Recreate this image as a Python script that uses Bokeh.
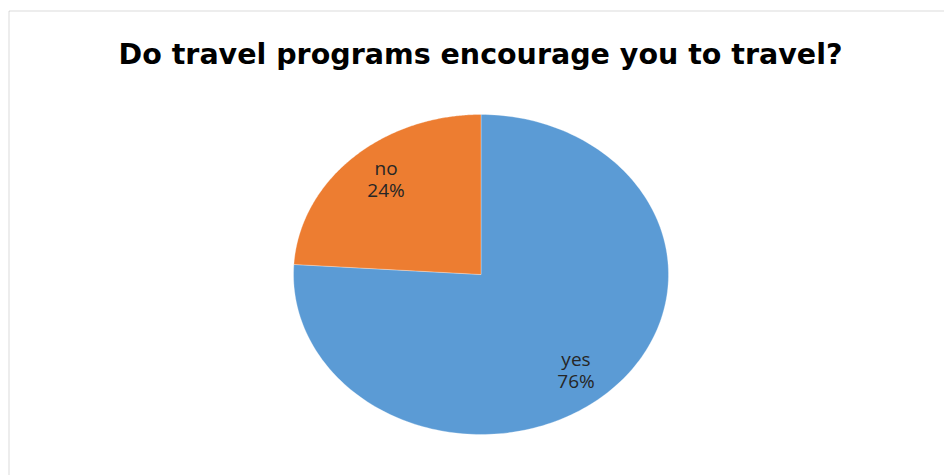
import numpy as np
from bokeh.plotting import figure
from bokeh.models import Range1d, ColumnDataSource, BoxAnnotation, Label
from bokeh.core.properties import value
from bokeh.embed import file_html
from bokeh.resources import INLINE

title_text = "Do travel programs encourage you to travel?"
categories = ["yes", "no"]
values = [76, 24]
colors = ["#5B9BD5", "#ED7D31"]

W, H = 944, 475
cx, cy, rx, ry = 480.5, 274, 187.5, 160
label_frac_x, label_frac_y = 0.74, 0.82

p = figure(width=W, height=H, x_range=Range1d(0, W), y_range=Range1d(H, 0),
           output_backend="svg", toolbar_location=None, min_border=0)
p.axis.visible = False
p.grid.visible = False
p.outline_line_color = None
p.background_fill_color = "white"
p.border_fill_color = "white"

# chart border (left and top visible)
p.add_layout(BoxAnnotation(left=8.5, right=W + 50, top=10.5, bottom=H + 50,
                           fill_alpha=0, line_color="#888888", line_width=1))

total = float(sum(values))
fracs = np.array(values) / total
starts = np.concatenate([[0], np.cumsum(fracs)[:-1]])
xs, ys, lx, ly, texts = [], [], [], [], []
for cat, f, s in zip(categories, fracs, starts):
    a = np.linspace(s, s + f, 200) * 2 * np.pi  # clockwise from 12 o'clock
    xs.append(np.concatenate([[cx], cx + rx * np.sin(a), [cx]]))
    ys.append(np.concatenate([[cy], cy - ry * np.cos(a), [cy]]))
    m = (s + f / 2) * 2 * np.pi
    lx.append(cx + label_frac_x * rx * np.sin(m))
    ly.append(cy - label_frac_y * ry * np.cos(m))
    texts.append(f"{cat}\n{round(f * 100):d}%")

src = ColumnDataSource(dict(xs=xs, ys=ys, color=colors))
p.patches("xs", "ys", source=src, fill_color="color", line_color="white", line_width=0.3)

lsrc = ColumnDataSource(dict(x=lx, y=ly, text=texts))
p.text("x", "y", text="text", source=lsrc, text_align="center", text_baseline="middle",
       text_font=value("Open Sans"), text_font_size="19px", text_color="#262626",
       text_line_height=0.85)

p.add_layout(Label(x=480, y=54, text=title_text, text_align="center", text_baseline="alphabetic",
                   text_font="DejaVu Sans", text_font_style="bold", text_font_size="28.5px",
                   text_color="#000000"))

open("out.html", "w").write(file_html(p, INLINE))
